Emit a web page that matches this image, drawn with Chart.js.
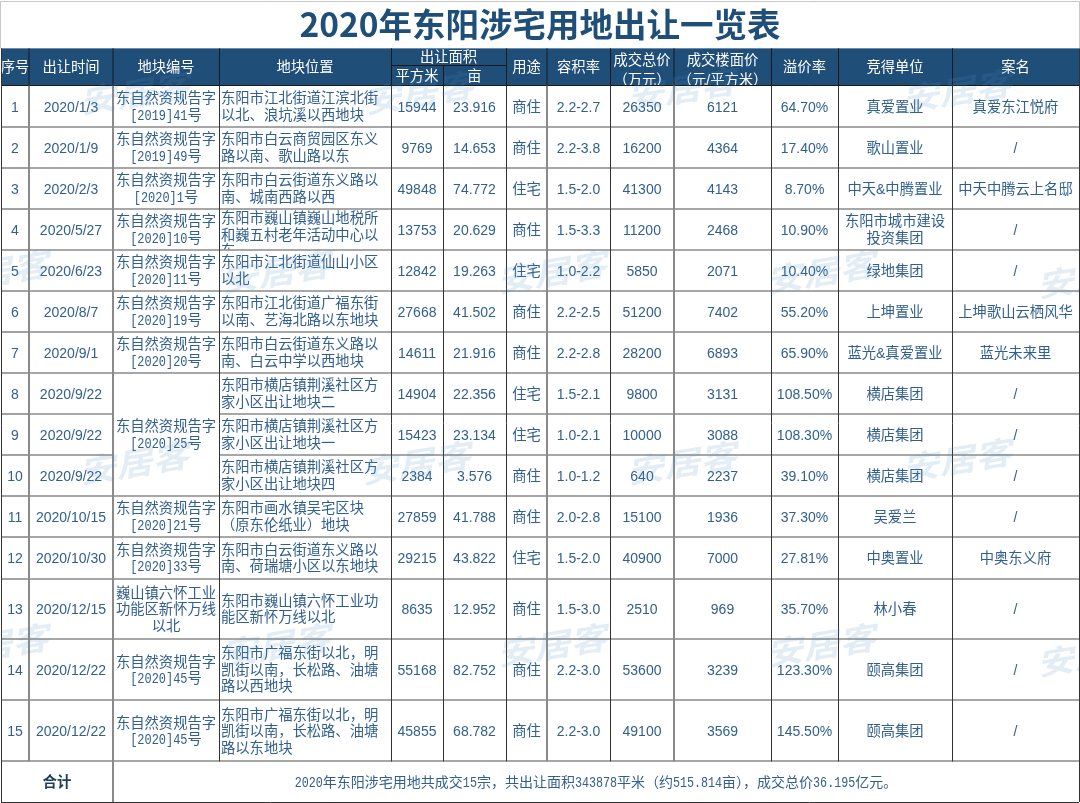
<!DOCTYPE html>
<html><head><meta charset="utf-8">
<script src="https://cdn.jsdelivr.net/npm/chart.js@4.4.1/dist/chart.umd.min.js"></script>
<style>html,body{margin:0;padding:0;background:#fff;}canvas{display:block;}</style>
</head><body>
<canvas id="c" width="1080" height="803"></canvas>
<script>
// ---------------- DATA ----------------
const titleText = '2020年东阳涉宅用地出让一览表';
const headers = ['序号','出让时间','地块编号','地块位置','出让面积','用途','容积率','成交总价\n（万元）','成交楼面价\n（元/平方米）','溢价率','竞得单位','案名'];
const areaSubHeaders = ['平方米','亩'];
const seqNo = ['1','2','3','4','5','6','7','8','9','10','11','12','13','14','15'];
const dealDates = ['2020/1/3','2020/1/9','2020/2/3','2020/5/27','2020/6/23','2020/8/7','2020/9/1','2020/9/22','2020/9/22','2020/9/22','2020/10/15','2020/10/30','2020/12/15','2020/12/22','2020/12/22'];
const plotCodes = ['东自然资规告字\n[2019]41号','东自然资规告字\n[2019]49号','东自然资规告字\n[2020]1号','东自然资规告字\n[2020]10号','东自然资规告字\n[2020]11号','东自然资规告字\n[2020]19号','东自然资规告字\n[2020]20号','东自然资规告字\n[2020]25号','','','东自然资规告字\n[2020]21号','东自然资规告字\n[2020]33号','巍山镇六怀工业\n功能区新怀万线\n以北','东自然资规告字\n[2020]45号','东自然资规告字\n[2020]45号'];
const plotCodeSpans = [1,1,1,1,1,1,1,3,0,0,1,1,1,1,1];
const locations = [
  '东阳市江北街道江滨北街\n以北、浪坑溪以西地块',
  '东阳市白云商贸园区东义\n路以南、歌山路以东',
  '东阳市白云街道东义路以\n南、城南西路以西',
  '东阳市巍山镇巍山地税所\n和巍五村老年活动中心以\n东',
  '东阳市江北街道仙山小区\n以北',
  '东阳市江北街道广福东街\n以南、艺海北路以东地块',
  '东阳市白云街道东义路以\n南、白云中学以西地块',
  '东阳市横店镇荆溪社区方\n家小区出让地块二',
  '东阳市横店镇荆溪社区方\n家小区出让地块一',
  '东阳市横店镇荆溪社区方\n家小区出让地块四',
  '东阳市画水镇吴宅区块\n（原东伦纸业）地块',
  '东阳市白云街道东义路以\n南、荷瑞塘小区以东地块',
  '东阳市巍山镇六怀工业功\n能区新怀万线以北',
  '东阳市广福东街以北，明\n凯街以南，长松路、油塘\n路以西地块',
  '东阳市广福东街以北，明\n凯街以南，长松路、油塘\n路以东地块'
];
const areaSqm = [15944,9769,49848,13753,12842,27668,14611,14904,15423,2384,27859,29215,8635,55168,45855];
const areaMu = ['23.916','14.653','74.772','20.629','19.263','41.502','21.916','22.356','23.134','3.576','41.788','43.822','12.952','82.752','68.782'];
const landUse = ['商住','商住','住宅','商住','住宅','商住','商住','住宅','住宅','商住','商住','住宅','商住','商住','商住'];
const plotRatio = ['2.2-2.7','2.2-3.8','1.5-2.0','1.5-3.3','1.0-2.2','2.2-2.5','2.2-2.8','1.5-2.1','1.0-2.1','1.0-1.2','2.0-2.8','1.5-2.0','1.5-3.0','2.2-3.0','2.2-3.0'];
const totalPrice = [26350,16200,41300,11200,5850,51200,28200,9800,10000,640,15100,40900,2510,53600,49100];
const floorPrice = [6121,4364,4143,2468,2071,7402,6893,3131,3088,2237,1936,7000,969,3239,3569];
const premiumRate = ['64.70%','17.40%','8.70%','10.90%','10.40%','55.20%','65.90%','108.50%','108.30%','39.10%','37.30%','27.81%','35.70%','123.30%','145.50%'];
const winners = ['真爱置业','歌山置业','中天&中腾置业','东阳市城市建设\n投资集团','绿地集团','上坤置业','蓝光&真爱置业','横店集团','横店集团','横店集团','吴爱兰','中奥置业','林小春','颐高集团','颐高集团'];
const projects = ['真爱东江悦府','/','中天中腾云上名邸','/','/','上坤歌山云栖风华','蓝光未来里','/','/','/','/','中奥东义府','/','/','/'];
const totalLabel = '合计';
const totalNote = '2020年东阳涉宅用地共成交15宗，共出让面积343878平米（约515.814亩），成交总价36.195亿元。';
const watermarkText = '安居客';

// ---------------- LAYOUT / STYLE ----------------
const layoutCfg = {
  colEdges: [0,28,112,218,390,442,505,546,609,673,770,837,951,1078],
  headerCols: [[0,1],[1,2],[2,3],[3,4],[4,6],[6,7],[7,8],[8,9],[9,10],[10,11],[11,12],[12,13]],
  headerHeight: 37.5, headerSplit: 17,
  rowHeights: [41,41,41,41,41,41,41,41,41,41,41,42,60,61.5,61],
  totalHeight: 40.5,
  colAlign: ['center','center','center','left','center','center','center','center','center','center','center','center','center'],
  watermarks: [[137,44],[421,44],[684,40],[959,42],[-4,223],[278,223],[554,223],[823,223],[1094,228],
               [136,414],[418,414],[684,414],[959,411],[-4,596],[278,596],[554,596],[823,596],[1094,606]]
};
const cjk = '"Noto Sans CJK SC"';
const styles = {
  headerBg: '#1f4e79', titleColor: '#1f4e79',
  body: {color:'#32608e', size:14.3, asciiSize:14, weight:'normal', mono:false, lh:16.5},
  code: {color:'#32608e', size:14.3, asciiSize:14, weight:'normal', mono:true, lh:16.5},
  head: {color:'#ffffff', size:14.3, asciiSize:14, weight:'normal', mono:false, lh:20},
  total: {color:'#1d3d5f', size:14.5, asciiSize:14, weight:'bold', mono:false, lh:16.5},
  note: {color:'#32608e', size:14, asciiSize:14, weight:'normal', mono:true, lh:16.5},
  gridGray: '#8a8a8a', gridDark: '#333333',
  thickCols: [1,2,7,9],
  monoScale: 0.835
};

function splitRuns(t){
  const out=[]; let cur='', curA=null;
  for (const ch of t){ const a = ch.charCodeAt(0) < 128; if (curA===null||a===curA){cur+=ch;curA=a;} else {out.push({t:cur,a:curA});cur=ch;curA=a;} }
  if (cur) out.push({t:cur,a:curA});
  return out;
}
function runFont(a, st){
  if (a) return st.mono ? `${st.weight} ${st.size}px "Liberation Mono"` : `${st.weight} ${st.asciiSize}px "Liberation Sans", ${cjk}`;
  return `${st.weight} ${st.size}px ${cjk}, sans-serif`;
}
function runScale(a, st){ return (a && st.mono) ? styles.monoScale : 1; }
function lineWidth(ctx, t, st){ let w=0; for (const r of splitRuns(t)){ ctx.font=runFont(r.a,st); w+=ctx.measureText(r.t).width*runScale(r.a,st); } return w; }
function drawLine(ctx, t, x, y, align, st){
  const w = lineWidth(ctx,t,st);
  let sx = align==='center' ? x - w/2 : x;
  ctx.fillStyle = st.color; ctx.textBaseline='alphabetic'; ctx.textAlign='left';
  const base = y + st.size*0.36;
  for (const r of splitRuns(t)){
    ctx.font=runFont(r.a,st);
    const s = runScale(r.a,st);
    ctx.save(); ctx.translate(sx, base); ctx.scale(s,1); ctx.fillText(r.t, 0, 0); ctx.restore();
    sx += ctx.measureText(r.t).width*s;
  }
}
function drawCell(ctx, x0, x1, y0, y1, text, align, st){
  if (text===undefined||text===null||text==='') return;
  const lines = String(text).split('\n');
  const n = lines.length, h = y1-y0;
  let first = (n===1 || n*st.lh <= h) ? (y0+y1)/2 - (n-1)*st.lh/2 : y0 + st.lh*0.55;
  ctx.save(); ctx.beginPath();
  if (n===1) ctx.rect(x0, y0-4, x1-x0, y1-y0+8); else ctx.rect(x0, y0, x1-x0, y1-y0);
  ctx.clip();
  lines.forEach((ln,k)=>{ const x = align==='left' ? x0+2 : (x0+x1)/2; drawLine(ctx, ln, x, first+k*st.lh, align, st); });
  ctx.restore();
}

const tablePlugin = {
  id:'tablePlugin',
  afterDraw(chart){
    const ctx = chart.ctx, xs = chart.scales.x, ys = chart.scales.y;
    const X = v => xs.getPixelForValue(v), Y = v => ys.getPixelForValue(v);
    const E = layoutCfg.colEdges, N = E.length-1;
    const R = [0, layoutCfg.headerHeight];
    layoutCfg.rowHeights.forEach(h => R.push(R[R.length-1]+h));
    R.push(R[R.length-1]+layoutCfg.totalHeight);
    const nRows = layoutCfg.rowHeights.length;
    ctx.save();
    ctx.strokeStyle = '#c8c8c8'; ctx.lineWidth = 1;
    ctx.beginPath(); ctx.moveTo(X(E[0])-0.5, Y(0)); ctx.lineTo(X(E[0])-0.5, 1.5); ctx.lineTo(X(E[N])+0.5, 1.5); ctx.lineTo(X(E[N])+0.5, Y(0)); ctx.stroke();
    ctx.fillStyle = styles.headerBg;
    ctx.fillRect(X(E[0]), Y(R[0]), X(E[N])-X(E[0]), Y(R[1])-Y(R[0]));
    layoutCfg.headerCols.forEach((sp,k)=>{
      const x0=X(E[sp[0]]), x1=X(E[sp[1]]);
      if (sp[1]-sp[0]===2){
        const ym = Y(R[0]+layoutCfg.headerSplit);
        drawCell(ctx, x0, x1, Y(R[0]), ym, headers[k], 'center', styles.head);
        drawCell(ctx, x0, X(E[sp[0]+1]), ym, Y(R[1]), areaSubHeaders[0], 'center', styles.head);
        drawCell(ctx, X(E[sp[0]+1]), x1, ym, Y(R[1]), areaSubHeaders[1], 'center', styles.head);
      } else drawCell(ctx, x0, x1, Y(R[0]), Y(R[1]), headers[k], 'center', styles.head);
    });
    const cols = [seqNo, dealDates, plotCodes, locations, areaSqm, areaMu, landUse, plotRatio, totalPrice, floorPrice, premiumRate, winners, projects];
    for (let i=0;i<nRows;i++){
      const y0 = Y(R[i+1]), y1 = Y(R[i+2]);
      cols.forEach((arr,c)=>{
        if (c===2){
          const sp = plotCodeSpans[i]; if (!sp) return;
          drawCell(ctx, X(E[c]), X(E[c+1]), y0, Y(R[i+1+sp]), arr[i], 'center', styles.code);
        } else drawCell(ctx, X(E[c]), X(E[c+1]), y0, y1, arr[i], layoutCfg.colAlign[c], styles.body);
      });
    }
    drawCell(ctx, X(E[0]), X(E[2]), Y(R[nRows+1]), Y(R[nRows+2]), totalLabel, 'center', styles.total);
    drawCell(ctx, X(E[2]), X(E[N]), Y(R[nRows+1]), Y(R[nRows+2]), totalNote, 'center', styles.note);

    const seg = (x0,y0,x1,y1,col,w)=>{ ctx.strokeStyle=col; ctx.lineWidth=w; ctx.beginPath(); ctx.moveTo(x0,y0); ctx.lineTo(x1,y1); ctx.stroke(); };
    const snap = (v,w)=> w%2===1 ? Math.round(v-0.5)+0.5 : Math.round(v);
    for (let b=2;b<=nRows+1;b++){
      const yy = snap(Y(R[b]),2);
      for (let c=0;c<N;c++){
        if (c===2){ const idx=b-2;
          let covered=false; for (let r=0;r<nRows;r++){ if (plotCodeSpans[r]>1 && idx>=r && idx<r+plotCodeSpans[r]-1) covered=true; }
          if (covered) continue; }
        seg(X(E[c]), yy, X(E[c+1]), yy, styles.gridGray, 1.6);
      }
    }
    seg(X(E[0]), snap(Y(R[1]),1), X(E[N]), snap(Y(R[1]),1), '#1a1a1a', 1);
    const ysp = snap(Y(R[0]+layoutCfg.headerSplit),1);
    seg(X(E[4]), ysp, X(E[6]), ysp, '#1a1a1a', 1);
    for (let c=1;c<N;c++){
      const thick = styles.thickCols.includes(c);
      const xx = thick ? snap(X(E[c]),2) : snap(X(E[c]),1);
      const top = (c===5) ? Y(R[0]+layoutCfg.headerSplit) : Y(R[0]);
      seg(xx, top, xx, Y(R[1]), '#1a1a1a', 1);
      const bottom = (c===2) ? Y(R[nRows+2]) : Y(R[nRows+1]);
      seg(xx, Y(R[1]), xx, bottom, thick ? styles.gridGray : styles.gridDark, thick ? 2 : 1);
    }
    seg(snap(X(E[0]),1), Y(R[0]), snap(X(E[0]),1), Y(R[nRows+2]), '#333', 1);
    seg(snap(X(E[N]),1), Y(R[0]), snap(X(E[N]),1), Y(R[nRows+2]), '#333', 1);
    seg(X(E[0]), snap(Y(R[nRows+2]),1), X(E[N]), snap(Y(R[nRows+2]),1), '#333', 1);

    ctx.beginPath(); ctx.rect(X(E[0]), Y(R[0]), X(E[N])-X(E[0]), Y(R[nRows+2])-Y(R[0])); ctx.clip();
    ctx.fillStyle = 'rgba(80,140,200,0.16)';
    ctx.font = `bold 37px ${cjk}`; ctx.textAlign='center'; ctx.textBaseline='middle';
    layoutCfg.watermarks.forEach(([wx,wy])=>{
      ctx.save(); ctx.translate(X(wx), Y(wy)); ctx.rotate(-0.16); ctx.transform(1,0,-0.25,0.85,0,0);
      ctx.fillText(watermarkText, 0, 0); ctx.restore();
    });
    ctx.restore();
  }
};

function build(){
  const total = layoutCfg.headerHeight + layoutCfg.rowHeights.reduce((a,b)=>a+b,0) + layoutCfg.totalHeight;
  new Chart(document.getElementById('c'), {
    type:'scatter',
    data:{datasets:[]},
    options:{
      responsive:false, animation:false, devicePixelRatio:1,
      layout:{padding:{left:1,right:1,top:0,bottom:1}},
      plugins:{
        legend:{display:false}, tooltip:{enabled:false},
        title:{display:true, text:titleText, color:styles.titleColor,
          font:{family:'"Noto Sans CJK SC"', size:33.5, weight:'bold', lineHeight:1.16}, padding:{top:5,bottom:4.5}}
      },
      scales:{
        x:{type:'linear', display:false, min:0, max:layoutCfg.colEdges[layoutCfg.colEdges.length-1]},
        y:{type:'linear', display:false, min:0, max:total, reverse:true}
      }
    },
    plugins:[tablePlugin]
  });
}
const fl = [`16px ${cjk}`, `bold 35px ${cjk}`, '14px "Liberation Sans"', '14px "Liberation Mono"'];
Promise.race([Promise.all(fl.map(f=>document.fonts.load(f))), new Promise(r=>setTimeout(r,1500))]).then(build, build);
</script>
</body></html>
